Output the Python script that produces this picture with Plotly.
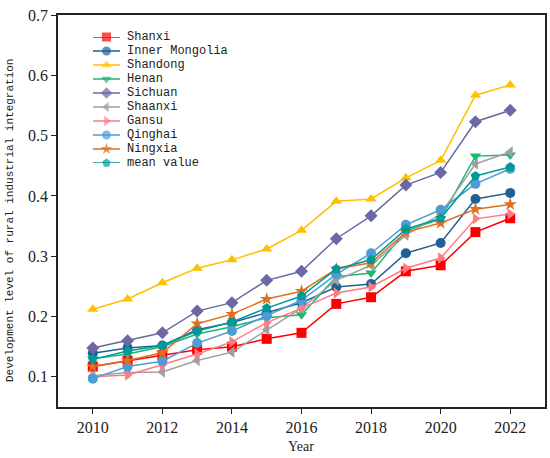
import plotly.graph_objects as go

years = list(range(2010, 2023))

shanxi = [0.117, 0.127, 0.136, 0.145, 0.150, 0.163, 0.173, 0.221, 0.232, 0.275, 0.285, 0.340, 0.363]
inner_mongolia = [0.139, 0.148, 0.152, 0.178, 0.190, 0.206, 0.223, 0.249, 0.254, 0.305, 0.322, 0.395, 0.405]
shandong = [0.212, 0.229, 0.256, 0.280, 0.294, 0.312, 0.343, 0.391, 0.395, 0.430, 0.459, 0.567, 0.584]
henan = [0.130, 0.138, 0.150, 0.171, 0.183, 0.198, 0.203, 0.266, 0.272, 0.342, 0.362, 0.466, 0.468]
sichuan = [0.148, 0.160, 0.173, 0.209, 0.223, 0.260, 0.275, 0.329, 0.367, 0.418, 0.439, 0.523, 0.542]
shaanxi = [0.102, 0.107, 0.108, 0.127, 0.141, 0.178, 0.214, 0.260, 0.285, 0.335, 0.370, 0.453, 0.473]
gansu = [0.100, 0.103, 0.120, 0.138, 0.158, 0.190, 0.214, 0.239, 0.249, 0.280, 0.297, 0.362, 0.370]
qinghai = [0.097, 0.117, 0.126, 0.156, 0.176, 0.201, 0.227, 0.270, 0.305, 0.352, 0.377, 0.420, 0.445]
ningxia = [0.117, 0.127, 0.140, 0.188, 0.204, 0.229, 0.242, 0.279, 0.289, 0.340, 0.355, 0.378, 0.386]
mean_value = [0.129, 0.143, 0.152, 0.176, 0.191, 0.214, 0.234, 0.279, 0.294, 0.345, 0.363, 0.433, 0.448]

names = ["Shanxi", "Inner Mongolia", "Shandong", "Henan", "Sichuan", "Shaanxi",
         "Gansu", "Qinghai", "Ningxia", "mean value"]
series = [shanxi, inner_mongolia, shandong, henan, sichuan, shaanxi,
          gansu, qinghai, ningxia, mean_value]
colors = ["#FF0000", "#1F6096", "#FFC000", "#1DB570", "#6B69A3", "#A0A0A0",
          "#FF7B80", "#4F9BD6", "#E0701E", "#00999A"]
symbols = ["square", "circle", "triangle-up", "triangle-down", "diamond",
           "triangle-left", "triangle-right", "circle", "star", "pentagon"]

xtickvals = [2010, 2012, 2014, 2016, 2018, 2020, 2022]
ytickvals = [0.1, 0.2, 0.3, 0.4, 0.5, 0.6, 0.7]
yticktext = ["0.1", "0.2", "0.3", "0.4", "0.5", "0.6", "0.7"]

W, H = 550, 458
L, R, T, B = 58, 5, 15, 51
pw, ph = W - L - R, H - T - B

SERIF = "Times New Roman, Liberation Serif, serif"
MONO = "Liberation Mono, monospace"

fig = go.Figure()
for n, s, c, m in zip(names, series, colors, symbols):
    fig.add_trace(go.Scatter(
        x=years, y=s, name=n, mode="lines+markers", showlegend=False,
        line=dict(color=c, width=1.5),
        marker=dict(symbol=m, size=10, color=c, line=dict(width=0)),
    ))

# custom compact legend on an overlay axis (index-based rows)
annotations = []
for i, (n, c, m) in enumerate(zip(names, colors, symbols)):
    fig.add_trace(go.Scatter(
        x=[0, 0.5, 1], y=[i, i, i], xaxis="x2", yaxis="y2",
        mode="lines+markers", showlegend=False, hoverinfo="skip", cliponaxis=False,
        line=dict(color=c, width=1.5),
        marker=dict(symbol=m, size=[0, 9, 0], color=c, line=dict(width=0)),
    ))
    annotations.append(dict(
        x=1, y=i, xref="x2", yref="y2", text=n, showarrow=False,
        xanchor="left", yanchor="middle", xshift=5,
        font=dict(family=MONO, size=12, color="#222"),
    ))

def px_x(p):
    return (p - L) / pw

def px_y(p):
    return (H - B - p) / ph

annotations.append(dict(
    x=px_x(301), y=px_y(446), xref="paper", yref="paper", text="Year", showarrow=False,
    xanchor="center", yanchor="middle",
    font=dict(family=SERIF, size=14, color="#222"),
))
annotations.append(dict(
    x=px_x(10), y=px_y(221), xref="paper", yref="paper",
    text="Development level of rural industrial integration", showarrow=False, textangle=-90,
    xanchor="center", yanchor="middle",
    font=dict(family=MONO, size=11, color="#222"),
))

axis_common = dict(
    automargin=False, ticks="outside", ticklen=5, tickwidth=1, tickcolor="#222",
    showline=True, linecolor="#222", linewidth=1.5, mirror=True,
    showgrid=False, zeroline=False,
    tickfont=dict(family=SERIF, size=16, color="#222"),
)

fig.update_layout(
    width=W, height=H,
    margin=dict(l=L, r=R, t=T, b=B),
    paper_bgcolor="white", plot_bgcolor="white",
    showlegend=False,
    font=dict(family=SERIF, color="#222"),
    annotations=annotations,
    xaxis=dict(range=[2009, 2023], tickmode="array", tickvals=xtickvals, **axis_common),
    yaxis=dict(range=[0.05, 0.7], tickmode="array", tickvals=ytickvals, ticktext=yticktext,
               **axis_common),
    xaxis2=dict(domain=[px_x(93), px_x(120)], range=[0, 1], anchor="y2",
                visible=False, fixedrange=True),
    yaxis2=dict(domain=[px_y(163), px_y(37)], range=[9, 0], anchor="x2",
                visible=False, fixedrange=True),
)

fig.write_html("out.html", config={"displayModeBar": False},
               post_script="document.body.style.margin='0';")
